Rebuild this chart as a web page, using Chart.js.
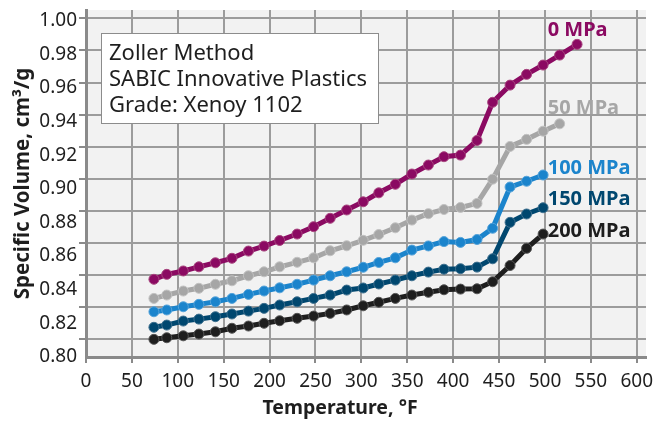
<!DOCTYPE html>
<html>
<head>
<meta charset="utf-8">
<script src="https://cdn.jsdelivr.net/npm/chart.js@4/dist/chart.umd.min.js"></script>
<style>
  html, body { margin: 0; padding: 0; background: #ffffff; }
  #wrap { width: 653px; height: 421px; position: relative; }
</style>
</head>
<body>
<div id="wrap"><canvas id="pvt" width="653" height="421"></canvas></div>
<script>
// Measurement temperatures, °F
const temperatureF = [74, 88, 106, 123, 141, 159, 177, 194, 211, 230, 248, 266, 284, 302, 319,
                      337, 355, 373, 390, 408, 426, 443, 462, 480, 498, 516, 535];

// Specific volume (cm³/g) at each pressure
const sv0MPa   = [0.8374, 0.8405, 0.8426, 0.8452, 0.8477, 0.8505, 0.8550, 0.8581, 0.8616, 0.8656,
                  0.8702, 0.8754, 0.8806, 0.8857, 0.8913, 0.8966, 0.9030, 0.9086, 0.9138, 0.9148,
                  0.9239, 0.9477, 0.9584, 0.9651, 0.9709, 0.9771, 0.9838];
const sv50MPa  = [0.8255, 0.8276, 0.8301, 0.8318, 0.8343, 0.8365, 0.8396, 0.8421, 0.8452, 0.8480,
                  0.8508, 0.8552, 0.8583, 0.8617, 0.8653, 0.8695, 0.8743, 0.8783, 0.8809, 0.8822,
                  0.8847, 0.8998, 0.9202, 0.9246, 0.9297, 0.9343];
const sv100MPa = [0.8172, 0.8183, 0.8203, 0.8218, 0.8234, 0.8255, 0.8280, 0.8301, 0.8321, 0.8343,
                  0.8369, 0.8396, 0.8421, 0.8449, 0.8479, 0.8508, 0.8556, 0.8582, 0.8609, 0.8604,
                  0.8622, 0.8692, 0.8949, 0.8985, 0.9024];
const sv150MPa = [0.8075, 0.8089, 0.8114, 0.8126, 0.8141, 0.8158, 0.8176, 0.8193, 0.8214, 0.8234,
                  0.8255, 0.8276, 0.8307, 0.8320, 0.8345, 0.8369, 0.8396, 0.8419, 0.8437, 0.8440,
                  0.8450, 0.8502, 0.8729, 0.8781, 0.8820];
const sv200MPa = [0.8000, 0.8010, 0.8022, 0.8033, 0.8047, 0.8069, 0.8083, 0.8100, 0.8116, 0.8131,
                  0.8145, 0.8162, 0.8183, 0.8209, 0.8231, 0.8255, 0.8276, 0.8293, 0.8309, 0.8313,
                  0.8315, 0.8359, 0.8460, 0.8567, 0.8656];

const seriesNames = ['0 MPa', '50 MPa', '100 MPa', '150 MPa', '200 MPa'];

// Tick values
const xTickValues = [0, 50, 100, 150, 200, 250, 300, 350, 400, 450, 500, 550, 600];
const yTickValues = [0.80, 0.82, 0.84, 0.86, 0.88, 0.90, 0.92, 0.94, 0.96, 0.98, 1.00];

const infoLines = ['Zoller Method', 'SABIC Innovative Plastics', 'Grade: Xenoy 1102'];

// ---- styling ----
const FONT = '"Noto Sans", "DejaVu Sans", sans-serif';
const TEXT = '#1e1e1e';
const GRID = '#9c9c9c';
const AXIS = '#8a8a8a';
const seriesStyle = [
  { color: '#8b0a62', ring: '#a8467f' },
  { color: '#a6a6a6', ring: '#c2c2c2' },
  { color: '#1b84cc', ring: '#55a3da' },
  { color: '#00476f', ring: '#3d6f8e' },
  { color: '#1e1e1e', ring: '#555555' }
];
// where each pressure name sits (°F at left edge, specific volume at centre line)
const nameSpots = [
  { t: 503, v: 0.9927 },
  { t: 503, v: 0.9441 },
  { t: 503, v: 0.9067 },
  { t: 503, v: 0.8871 },
  { t: 503, v: 0.8676 }
];

const seriesValues = [sv0MPa, sv50MPa, sv100MPa, sv150MPa, sv200MPa];
const datasets = seriesValues.map((vals, k) => ({
  label: seriesNames[k],
  data: vals.map((v, i) => ({ x: temperatureF[i], y: v })),
  borderColor: seriesStyle[k].color,
  backgroundColor: seriesStyle[k].color,
  borderWidth: 5,
  pointRadius: 5,
  pointBorderWidth: 1,
  pointBackgroundColor: seriesStyle[k].color,
  pointBorderColor: seriesStyle[k].ring,
  tension: 0,
  xAxisID: 'x',
  yAxisID: 'y'
}));

// keep the plot rectangle fixed: no extra room for edge labels
function noEdgePadding(s) {
  s.paddingTop = 0; s.paddingBottom = 0; s.paddingLeft = 0; s.paddingRight = 0;
}

const plotBackground = {
  id: 'plotBackground',
  beforeDraw(chart) {
    const { ctx, chartArea: a } = chart;
    ctx.save();
    ctx.fillStyle = '#f2f2f2';
    ctx.fillRect(a.left, a.top, a.right - a.left, a.bottom - a.top);
    ctx.restore();
  }
};

const annotations = {
  id: 'annotations',
  afterDatasetsDraw(chart) {
    const { ctx, chartArea: a, scales } = chart;
    ctx.save();
    // information box
    const bx = a.left + 15, by = a.top + 23, bw = 278, bh = 91;
    ctx.fillStyle = '#ffffff';
    ctx.fillRect(bx, by, bw, bh);
    ctx.strokeStyle = '#8c8c8c';
    ctx.lineWidth = 1;
    ctx.strokeRect(bx + 0.5, by + 0.5, bw - 1, bh - 1);
    ctx.fillStyle = TEXT;
    ctx.font = '22px ' + FONT;
    ctx.textAlign = 'left';
    ctx.textBaseline = 'alphabetic';
    infoLines.forEach((line, i) => ctx.fillText(line, bx + 8, by + 27 + i * 26));

    // pressure names beside the curves
    ctx.font = 'bold 20px ' + FONT;
    ctx.textBaseline = 'middle';
    nameSpots.forEach((s, k) => {
      ctx.fillStyle = seriesStyle[k].color;
      ctx.fillText(seriesNames[k], scales.x.getPixelForValue(s.t), scales.y.getPixelForValue(s.v));
    });

    // x-axis title
    ctx.fillStyle = TEXT;
    ctx.font = 'bold 19.5px ' + FONT;
    ctx.textAlign = 'center';
    ctx.textBaseline = 'alphabetic';
    ctx.fillText('Temperature, °F', 340, 414);
    ctx.restore();
  }
};

new Chart(document.getElementById('pvt'), {
  type: 'line',
  data: { datasets },
  plugins: [plotBackground, annotations],
  options: {
    responsive: false,
    animation: false,
    devicePixelRatio: 1,
    layout: { padding: { top: 10, right: 7, bottom: 0, left: 0 } },
    plugins: { legend: { display: false }, tooltip: { enabled: false } },
    scales: {
      x: {
        type: 'linear',
        position: 'bottom',
        min: 0,
        max: 610.1,
        afterBuildTicks: s => { s.ticks = xTickValues.map(v => ({ value: v })); },
        afterFit: s => { s.height = 64; noEdgePadding(s); },
        grid: { color: GRID, lineWidth: 2, drawTicks: true, tickLength: 6, tickColor: AXIS },
        border: { display: true, color: AXIS, width: 3 },
        ticks: { color: TEXT, font: { family: FONT, size: 19 }, padding: 7, maxRotation: 0, autoSkip: false }
      },
      y: {
        type: 'linear',
        position: 'left',
        weight: 0,
        min: 0.7890,
        max: 1.0052,
        afterBuildTicks: s => { s.ticks = yTickValues.map(v => ({ value: v })); },
        afterFit: s => { s.width = 0; noEdgePadding(s); },
        grid: { color: GRID, lineWidth: 2, drawTicks: true, tickLength: 7, tickColor: AXIS },
        border: { display: true, color: AXIS, width: 3 },
        ticks: { display: false }
      },
      yLabels: {
        type: 'linear',
        position: 'left',
        weight: 1,
        min: 0.79988,
        max: 1.006367,
        afterBuildTicks: s => { s.ticks = yTickValues.map(v => ({ value: v })); },
        afterFit: s => { s.width = 86; noEdgePadding(s); },
        grid: { display: false, drawTicks: false },
        border: { display: false },
        ticks: {
          color: TEXT,
          font: { family: FONT, size: 19 },
          padding: 9,
          callback: v => v.toFixed(2)
        },
        title: {
          display: true,
          text: 'Specific Volume, cm³/g',
          color: TEXT,
          font: { family: FONT, size: 20.5, weight: 'bold' },
          padding: { top: 11, bottom: 0 }
        }
      }
    }
  }
});
</script>
</body>
</html>
